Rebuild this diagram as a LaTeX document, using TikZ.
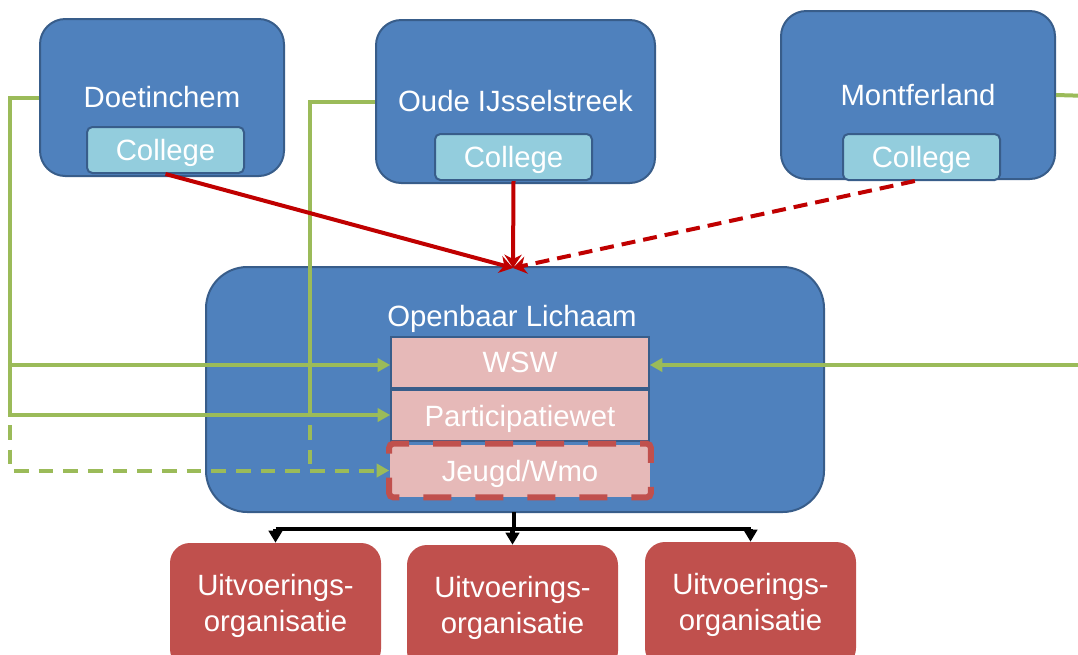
\documentclass[tikz,border=0pt]{standalone}
\usepackage{fontspec}
\setmainfont{Liberation Sans}
\usetikzlibrary{arrows.meta}
\definecolor{blueF}{HTML}{4F81BD}
\definecolor{blueD}{HTML}{385D8A}
\definecolor{collegeC}{HTML}{93CDDD}
\definecolor{pinkC}{HTML}{E6B9B8}
\definecolor{redC}{HTML}{C0504D}
\definecolor{greenC}{HTML}{9BBB59}
\definecolor{darkredC}{HTML}{C00000}
\newcommand{\fsz}{\fontsize{22}{27.5}\selectfont}
\begin{document}
\begin{tikzpicture}[x=0.75pt,y=-0.75pt,
  muni/.style={draw=blueD, line width=1.5pt, fill=blueF, rounded corners=19pt, inner sep=0pt, text=white, font=\fsz},
  colbox/.style={draw=blueD, line width=1.5pt, fill=collegeC, rounded corners=4pt, inner sep=0pt, text=white, font=\fsz, text depth=0pt, minimum width=117.75pt, minimum height=34.5pt},
  lawbox/.style={draw=blueD, line width=1.2pt, fill=pinkC, inner sep=0pt, text=white, font=\fsz, text depth=0pt, minimum width=193.5pt, minimum height=38.25pt},
  jborder/.style={draw=redC, line width=4.5pt, dash pattern=on 21pt off 18pt, dash phase=30pt, rounded corners=3pt},
  uitv/.style={fill=redC, rounded corners=15pt, inner sep=0pt, text=white, font=\fsz, align=center, minimum width=158.25pt, minimum height=94.5pt},
  grn/.style={draw=greenC, line width=3pt},
  grnarr/.style={grn, -{Triangle[length=9.5pt,width=10pt]}},
  grndash/.style={dash pattern=on 11pt off 7.5pt},
  redarr/.style={draw=darkredC, line width=3pt, -{Stealth[length=10pt,width=13pt]}},
  blk/.style={draw=black, line width=3.5pt},
  blkarr/.style={blk, -{Triangle[length=9pt,width=10pt]}}
]
\clip (0,0) rectangle (1078,654);
\fill[white] (0,0) rectangle (1078,654);

% municipalities
\node[muni, minimum width=183pt, minimum height=117.75pt] (D) at (162,97.5) {Doetinchem};
\node[colbox] (c1) at (165.5,150) {College};
\node[muni, minimum width=209.25pt, minimum height=122.25pt] (O) at (515.5,101.5) {Oude IJsselstreek};
\node[colbox] (c2) at (513.5,157) {College};
\node[muni, minimum width=205.5pt, minimum height=126pt] (M) at (918,95) {Montferland};
\node[colbox] (c3) at (921.5,157) {College};

% Openbaar Lichaam
\node[muni, rounded corners=31pt, minimum width=463.5pt, minimum height=183.75pt] (OL) at (515,389.5) {};
\node[text=white, font=\fsz, inner sep=0pt] (OLt) at (512,319) {Openbaar Lichaam};
\node[lawbox] (W) at (520,362.5) {WSW};
\node[lawbox] (P) at (520,415.5) {Participatiewet};
\node[lawbox, draw=none, minimum width=195pt, minimum height=39pt] (J) at (520,470.5) {Jeugd/Wmo};
\draw[jborder] (J.north) -- (J.north east) -- (J.south east) -- (J.south west) -- (J.north west) -- cycle;

% execution organisations
\node[uitv] (U1) at (275.5,606) {Uitvoerings-\\organisatie};
\node[uitv] (U2) at (512.5,608) {Uitvoerings-\\organisatie};
\node[uitv] (U3) at (750.5,605) {Uitvoerings-\\organisatie};

% green connectors
\coordinate (gL) at (10,415);
\coordinate (gW) at (10,365);
\coordinate (gM) at (310,415);
\coordinate (rE1) at (1090,96);
\coordinate (rE2) at (1090,365);
\draw[grnarr] (D.west) -| (gL) -- (gL -| P.west);
\draw[grnarr] (gW) -- (gW -| W.west);
\draw[grn] (O.west) -| (gM);
\draw[grnarr, grndash, dash phase=11pt] (gL) -- (gL |- J.west) -- (J.west);
\draw[grn, grndash, dash phase=11pt] (gM) -- (gM |- J.west);
\draw[grn] (M.east) -- (rE1);
\draw[grnarr] (rE2) -- (rE2 -| W.east);

% red connectors
\coordinate (tip) at (513,268);
\draw[redarr] (c1.south) -- (tip);
\draw[redarr] (c2.south) -- (tip);
\draw[redarr, dash pattern=on 10.5pt off 6pt] ([xshift=-5pt]c3.south) -- (tip);

% black tree
\coordinate (bj) at (514,529);
\draw[blk] (514,512) -- (bj);
\draw[blk] (bj -| U1.north) -- (bj -| U3.north);
\draw[blkarr] (bj -| U1.north) -- (U1.north);
\draw[blkarr] (bj -| U2.north) -- (U2.north);
\draw[blkarr] (bj -| U3.north) -- (U3.north);
\end{tikzpicture}
\end{document}
